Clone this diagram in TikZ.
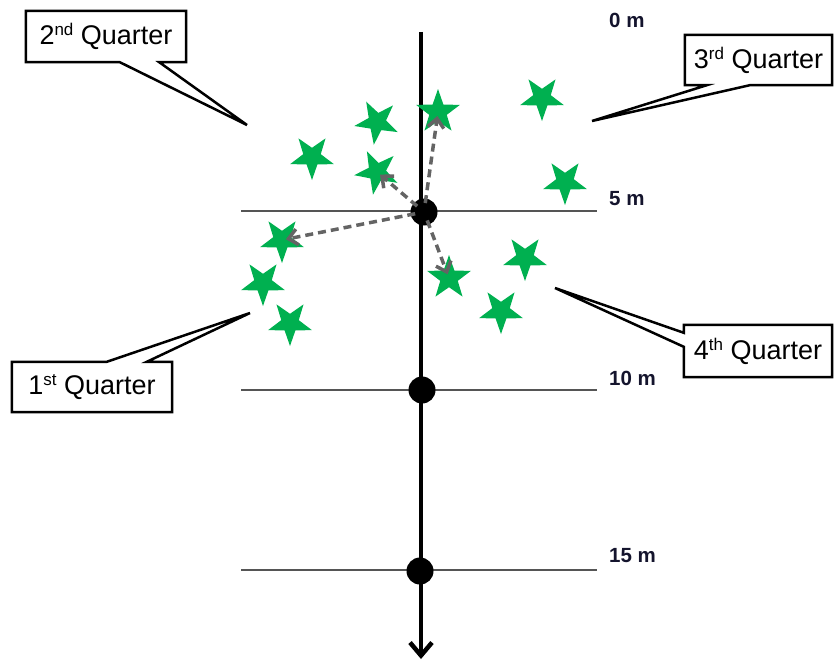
\documentclass[tikz,border=0pt]{standalone}
\usepackage{fontspec}
\setmainfont{Liberation Sans}
\usetikzlibrary{shapes.geometric,arrows.meta,calc}
\definecolor{stargreen}{RGB}{0,176,80}
\definecolor{axgray}{RGB}{85,85,85}
\definecolor{dashgray}{RGB}{100,100,100}
\definecolor{lblnavy}{RGB}{20,20,45}
\newcommand\qsup[1]{\raisebox{0.33em}{\fontsize{17}{17}\selectfont #1}}
\begin{document}
\begin{tikzpicture}[x=1pt,y=-1pt,
  star5/.style={star, star points=5, star point ratio=2.5, minimum size=46, inner sep=0, fill=stargreen, draw=none},
  inv/.style={shape border rotate=180},
  dot/.style={circle, fill=black, minimum size=27, inner sep=0},
  level/.style={draw=axgray, line width=2.2},
  depth/.style={anchor=west, inner sep=0, text=lblnavy, font=\fontsize{20.5}{20.5}\selectfont\bfseries},
  qtext/.style={inner sep=0, font=\fontsize{27}{32}\selectfont},
  cbox/.style={draw=black, line width=2.5, line join=miter},
  probe/.style={draw=dashgray, line width=3.5, dash pattern=on 8pt off 5pt, -{Straight Barb[length=9pt,width=16pt]}, shorten <=9, shorten >=4}
]
\useasboundingbox (0,0) rectangle (834,661);

% level lines
\coordinate (l5a) at (241,211);  \coordinate (l5b) at (597,211);
\coordinate (l10a) at (241,390); \coordinate (l10b) at (597,390);
\coordinate (l15a) at (241,570); \coordinate (l15b) at (597,570);
\draw[level] (l5a) -- (l5b);
\draw[level] (l10a) -- (l10b);
\draw[level] (l15a) -- (l15b);

% main axis
\coordinate (axtop) at (421,32);
\coordinate (axbot) at (421,659);
\draw[line width=4.5, -{Straight Barb[length=13pt,width=22pt]}] (axtop) -- (axbot);

% depth labels
\node[depth] (m0) at (609,20) {0 m};
\node[depth] (m5) at (609,199) {5 m};
\node[depth] (m10) at (609,378) {10 m};
\node[depth] (m15) at (609,556) {15 m};

% stars
\node[star5,inv, rotate=-8] (s1) at (377,122) {};
\node[star5] (s2) at (438,112) {};
\node[star5,inv] (s3) at (542,98) {};
\node[star5,inv] (s4) at (312,157) {};
\node[star5,inv, rotate=-10] (s5) at (377,172) {};
\node[star5,inv] (s6) at (565,182) {};
\node[star5,inv] (s7) at (282,240) {};
\node[star5,inv] (s8) at (525,258) {};
\node[star5,inv] (s9) at (263,283) {};
\node[star5] (s10) at (449,278) {};
\node[star5,inv] (s11) at (290,323) {};
\node[star5,inv] (s12) at (501,311) {};

% sampling dots
\node[dot] (d5) at (424,212) {};
\node[dot] (d10) at (422,390) {};
\node[dot] (d15) at (420,571) {};

% dashed probe arrows
\draw[probe] (d5.center) -- (s2.center);
\draw[probe] (d5.center) -- (s5.center);
\draw[probe] (d5.center) -- (s7.center);
\draw[probe] (d5.center) -- (s10.center);

% callouts
\node[qtext, minimum width=160, minimum height=51] (q2) at (106,36.5) {2\qsup{nd} Quarter};
\coordinate (t2) at (247,125);
\draw[cbox] (q2.north west) -- (q2.north east) -- (q2.south east) -- ([xshift=-27pt]q2.south east) -- (t2) -- ([xshift=94pt]q2.south west) -- (q2.south west) -- cycle;

\node[qtext, minimum width=147, minimum height=50] (q3) at (758.5,60) {3\qsup{rd} Quarter};
\coordinate (t3) at (592,121);
\draw[cbox] (q3.north west) -- (q3.north east) -- (q3.south east) -- ([xshift=65pt]q3.south west) -- (t3) -- ([xshift=22pt]q3.south west) -- (q3.south west) -- cycle;

\node[qtext, minimum width=160, minimum height=50] (q1) at (92,387) {1\qsup{st} Quarter};
\coordinate (t1) at (250,313);
\draw[cbox] (q1.south west) -- (q1.north west) -- ([xshift=95pt]q1.north west) -- (t1) -- ([xshift=135pt]q1.north west) -- (q1.north east) -- (q1.south east) -- cycle;

\node[qtext, minimum width=148, minimum height=52] (q4) at (758,351) {4\qsup{th} Quarter};
\coordinate (t4) at (555,288);
\draw[cbox] (q4.north west) -- (q4.north east) -- (q4.south east) -- (q4.south west) -- ([yshift=-22pt]q4.north west) -- (t4) -- ([yshift=-8pt]q4.north west) -- cycle;
\end{tikzpicture}
\end{document}
